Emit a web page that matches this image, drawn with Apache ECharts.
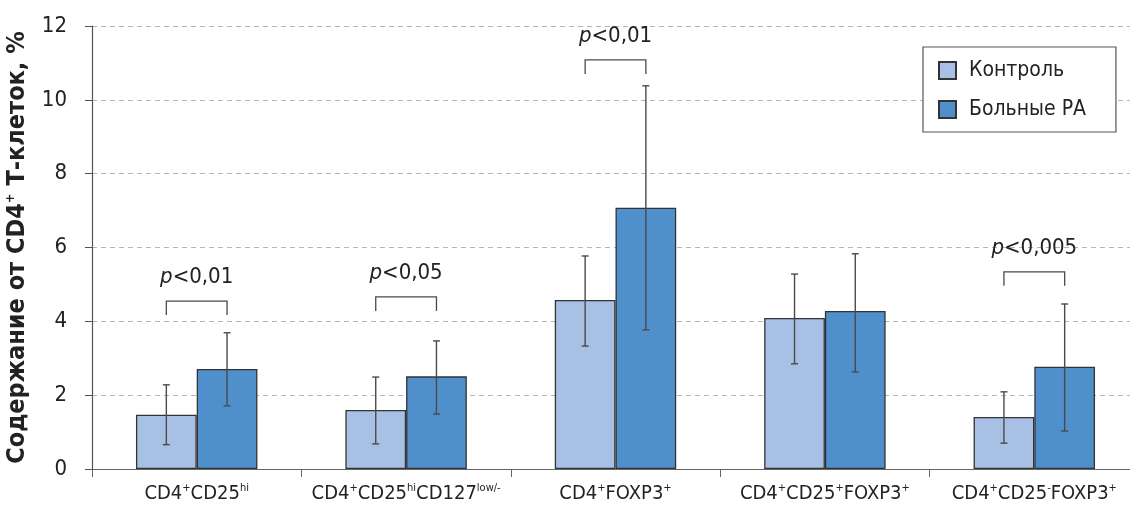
<!DOCTYPE html>
<html>
<head>
<meta charset="utf-8">
<script src="https://cdn.jsdelivr.net/npm/echarts@6/dist/echarts.min.js"></script>
<style>
  html, body { margin: 0; padding: 0; background: #fff; }
  #chart { width: 1130px; height: 508px; }
</style>
</head>
<body>
<div id="chart"></div>
<script>
// данные графика
const categories = [
  'CD4{sup|+}CD25{sup|hi}',
  'CD4{sup|+}CD25{sup|hi}CD127{sup|low/-}',
  'CD4{sup|+}FOXP3{sup|+}',
  'CD4{sup|+}CD25{sup|+}FOXP3{sup|+}',
  'CD4{sup|+}CD25{sup|-}FOXP3{sup|+}'
]
const seriesNames = ['Контроль', 'Больные РА']
const ctrlMean = [1.47, 1.60, 4.58, 4.09, 1.41]
const ctrlLow = [0.66, 0.68, 3.33, 2.85, 0.70]
const ctrlHigh = [2.28, 2.49, 5.77, 5.28, 2.09]
const raMean = [2.71, 2.51, 7.08, 4.28, 2.77]
const raLow = [1.71, 1.49, 3.77, 2.63, 1.03]
const raHigh = [3.69, 3.47, 10.38, 5.83, 4.47]
const pLabels = ['<0,01', '<0,05', '<0,01', '', '<0,005']
const bracketLevel = [4.55, 4.66, 11.08, null, 5.34]
const yTicks = [0, 2, 4, 6, 8, 10, 12]

const FONT = "'Liberation Sans Narrow', 'DejaVu Sans Condensed', 'Arial Narrow', sans-serif"
const LIGHT = '#a7c0e4'
const DARK = '#4f8fcc'
const ERR = '#4a4a4a'

// смещение центра столбца от центра категории (доля ширины категории)
const OFFSET = 0.145

const makeErr = (low, high, side) => ({
  type: 'custom',
  z: 5,
  silent: true,
  data: low.map((v, i) => [i, v, high[i]]),
  renderItem: (params, api) => {
    const band = api.size([1, 0])[0]
    const lo = api.coord([api.value(0), api.value(1)])
    const hi = api.coord([api.value(0), api.value(2)])
    const x = lo[0] + side * band * OFFSET
    const cap = 3.5
    const style = { stroke: ERR, lineWidth: 1.4 }
    return {
      type: 'group',
      children: [
        { type: 'line', shape: { x1: x, y1: lo[1], x2: x, y2: hi[1] }, style },
        { type: 'line', shape: { x1: x - cap, y1: lo[1], x2: x + cap, y2: lo[1] }, style },
        { type: 'line', shape: { x1: x - cap, y1: hi[1], x2: x + cap, y2: hi[1] }, style }
      ]
    }
  }
})

const bracketData = bracketLevel
  .map((v, i) => [i, v, pLabels[i]])
  .filter(d => d[1] !== null)

const chart = echarts.init(document.getElementById('chart'), null, { renderer: 'canvas' })

chart.setOption({
  animation: false,
  textStyle: { fontFamily: FONT },
  grid: { left: 92, right: -9, top: 26, bottom: 39, containLabel: false, outerBoundsMode: 'none' },
  legend: {
    data: seriesNames,
    orient: 'vertical',
    left: 923,
    top: 47,
    backgroundColor: '#fff',
    borderColor: '#555',
    borderWidth: 1.2,
    padding: [13, 30, 12, 15],
    itemGap: 18,
    itemWidth: 17,
    itemHeight: 17,
    icon: 'rect',
    textStyle: { fontFamily: FONT, fontSize: 21, color: '#222', padding: [0, 0, 0, 8] }
  },
  xAxis: {
    type: 'category',
    data: categories,
    axisLine: { lineStyle: { color: '#666', width: 1.2 } },
    axisTick: { show: true, alignWithLabel: false, length: 8, lineStyle: { color: '#666' } },
    axisLabel: {
      interval: 0,
      margin: 14,
      formatter: v => v,
      color: '#222',
      fontSize: 20,
      fontFamily: FONT,
      rich: {
        sup: { fontSize: 11, fontFamily: FONT, color: '#222', verticalAlign: 'top', lineHeight: 22 }
      }
    }
  },
  yAxis: {
    type: 'value',
    min: 0,
    max: 12,
    interval: 2,
    name: 'Содержание от CD4{sup|+} Т-клеток, %',
    nameLocation: 'middle',
    nameGap: 62,
    nameRotate: 90,
    nameTextStyle: {
      fontFamily: FONT,
      fontWeight: 'bold',
      fontSize: 25,
      color: '#222',
      rich: {
        sup: { fontSize: 13, fontWeight: 'bold', fontFamily: FONT, color: '#222', verticalAlign: 'top', lineHeight: 26 }
      }
    },
    axisLine: { show: true, lineStyle: { color: '#555', width: 1.2 } },
    axisTick: { show: true, inside: false, length: 7, lineStyle: { color: '#555' } },
    axisLabel: {
      margin: 25,
      color: '#222',
      fontSize: 22,
      fontFamily: FONT,
      formatter: v => (yTicks.includes(v) ? String(v) : '')
    },
    splitLine: { show: true, lineStyle: { color: '#b5b5b5', type: [5, 4], width: 1 } }
  },
  series: [
    {
      name: seriesNames[0],
      type: 'bar',
      data: ctrlMean,
      barGap: '0%',
      barCategoryGap: '42%',
      itemStyle: { color: LIGHT, borderColor: '#333', borderWidth: 1.3 }
    },
    {
      name: seriesNames[1],
      type: 'bar',
      data: raMean,
      barGap: '0%',
      barCategoryGap: '42%',
      itemStyle: { color: DARK, borderColor: '#333', borderWidth: 1.3 }
    },
    makeErr(ctrlLow, ctrlHigh, -1),
    makeErr(raLow, raHigh, 1),
    {
      type: 'custom',
      z: 6,
      silent: true,
      data: bracketData,
      renderItem: (params, api) => {
        const band = api.size([1, 0])[0]
        const c = api.coord([api.value(0), api.value(1)])
        const x1 = c[0] - band * OFFSET
        const x2 = c[0] + band * OFFSET
        const y = c[1]
        const leg = 14
        const style = { stroke: '#4a4a4a', lineWidth: 1.3, fill: null }
        return {
          type: 'group',
          children: [
            { type: 'polyline', shape: { points: [[x1, y + leg], [x1, y], [x2, y], [x2, y + leg]] }, style },
            {
              type: 'text',
              style: {
                x: c[0],
                y: y - 13,
                text: '{i|p}{n|' + bracketData[params.dataIndex][2] + '}',
                align: 'center',
                verticalAlign: 'bottom',
                rich: {
                  i: { fontFamily: FONT, fontStyle: 'italic', fontSize: 22, fill: '#222' },
                  n: { fontFamily: FONT, fontSize: 22, fill: '#222' }
                }
              }
            }
          ]
        }
      }
    }
  ]
})
</script>
</body>
</html>
